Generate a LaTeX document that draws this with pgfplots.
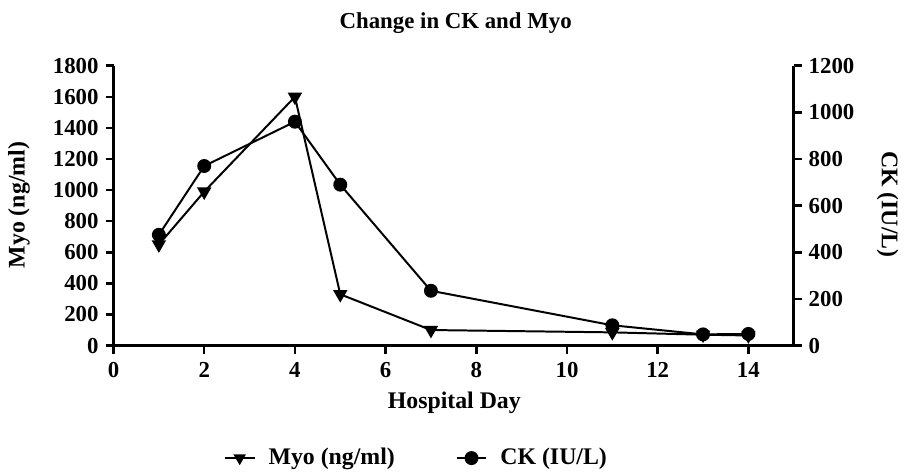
\documentclass[border=0pt]{standalone}
\usepackage{pgfplots}
\pgfplotsset{compat=1.18}
\usepackage{fontspec}
\setmainfont{Liberation Serif}
\begin{document}
\begin{tikzpicture}
\pgfplotsset{
  base/.style={
    scale only axis, width=341.5bp, height=140.5bp,
    xmin=0, xmax=15,
    axis line style={-, line width=1.25pt, black},
    tick style={line width=1.25pt, black},
    tick align=outside, major tick length=4bp,
    /pgf/number format/assume math mode=true,
    /pgf/number format/1000 sep={},
    tick label style={font=\fontsize{11.5}{13}\selectfont\bfseries},
    clip=false,
  }
}
\begin{axis}[base,
  axis x line*=bottom, axis y line*=left,
  ymin=0, ymax=1800, ytick={0,200,...,1800},
  xtick={0,2,...,14},
  xtick pos=bottom, ytick pos=left,
  xticklabel style={yshift=-1bp},
]
\addplot[black, line width=1pt, mark=triangle*, mark size=3.2bp, mark options={rotate=180}] coordinates {
(1,650)(2,990)(4,1600)(5,330)(7,100)(11,85)(13,70)(14,65)};
\node[font=\fontsize{11.5}{13}\selectfont\bfseries] at (axis description cs:0.503,1.153) {Change in CK and Myo};
\node[font=\fontsize{12}{14}\selectfont\bfseries] at (axis description cs:0.501,-0.203) {Hospital Day};
\node[font=\fontsize{12}{14}\selectfont\bfseries, rotate=90] at (axis description cs:-0.139,0.502) {Myo (ng/ml)};
\node[font=\fontsize{12}{14}\selectfont\bfseries, rotate=-90] at (axis description cs:1.138,0.505) {CK (IU/L)};
\path[use as bounding box] (axis description cs:-0.1669,-0.4306) rectangle (axis description cs:1.1581,1.2349);
\end{axis}
\begin{axis}[base,
  axis x line=none, axis y line*=right,
  ymin=0, ymax=1200, ytick={0,200,...,1200},
  ytick pos=right,
  legend columns=2,
  legend style={draw=none, fill=none, at={(0.4466,-0.402)}, anchor=center,
    font=\fontsize{12}{14}\selectfont\bfseries,
    /tikz/every odd column/.append style={column sep=4.5bp},
    /tikz/every even column/.append style={column sep=28.5bp}},
  legend image code/.code={\draw[mark repeat=2,mark phase=2] plot coordinates {(0bp,0bp) (7.5bp,0bp) (15bp,0bp)};},
]
\addlegendimage{black, line width=1pt, mark=triangle*, mark size=2.6bp, mark options={rotate=180}}
\addlegendentry{Myo (ng/ml)}
\addplot[black, line width=1pt, mark=*, mark size=3bp] coordinates {
(1,475)(2,770)(4,960)(5,690)(7,235)(11,87)(13,48)(14,50)};
\addlegendentry{CK (IU/L)}
\end{axis}
\end{tikzpicture}
\end{document}
